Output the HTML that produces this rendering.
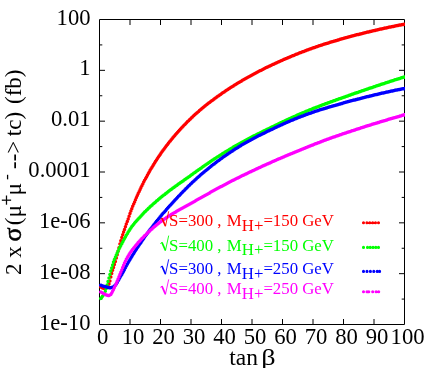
<!DOCTYPE html>
<html><head><meta charset="utf-8"><title>plot</title>
<style>
html,body{margin:0;padding:0;background:#fff;}
body{width:429px;height:368px;overflow:hidden;}
svg{display:block;filter:blur(0.35px);}
text{font-family:"Liberation Serif",serif;}
</style></head><body>
<svg width="429" height="368" viewBox="0 0 429 368">
<rect width="429" height="368" fill="#fff"/>
<path d="M99.5 19.5H404.5V324.5H99.5ZM130.0 324.5v-5.5M130.0 19.5v5.5M160.5 324.5v-5.5M160.5 19.5v5.5M191.0 324.5v-5.5M191.0 19.5v5.5M221.5 324.5v-5.5M221.5 19.5v5.5M252.0 324.5v-5.5M252.0 19.5v5.5M282.5 324.5v-5.5M282.5 19.5v5.5M313.0 324.5v-5.5M313.0 19.5v5.5M343.5 324.5v-5.5M343.5 19.5v5.5M374.0 324.5v-5.5M374.0 19.5v5.5M99.5 44.92h2.8M404.5 44.92h-2.8M99.5 70.33h5.5M404.5 70.33h-5.5M99.5 95.75h2.8M404.5 95.75h-2.8M99.5 121.17h5.5M404.5 121.17h-5.5M99.5 146.58h2.8M404.5 146.58h-2.8M99.5 172.00h5.5M404.5 172.00h-5.5M99.5 197.42h2.8M404.5 197.42h-2.8M99.5 222.83h5.5M404.5 222.83h-5.5M99.5 248.25h2.8M404.5 248.25h-2.8M99.5 273.67h5.5M404.5 273.67h-5.5M99.5 299.08h2.8M404.5 299.08h-2.8" fill="none" stroke="#000" stroke-width="1" stroke-linecap="butt"/>
<clipPath id="c"><rect x="97.5" y="19.5" width="307.5" height="305.0"/></clipPath>
<g clip-path="url(#c)" fill="none" stroke-linecap="round" stroke-linejoin="round">
<path d="M100.7 287.0h0M101.6 287.6h0M102.5 288.0h0M103.5 288.2h0M104.4 288.3h0M105.3 288.1h0M106.2 287.6h0M107.1 286.9h0M108.0 285.9h0M109.0 284.1h0M109.9 281.1h0M110.8 277.1h0M111.7 273.5h0M112.6 270.3h0M113.5 267.4h0M114.4 264.5h0M115.4 261.4h0M116.3 258.1h0M117.2 254.8h0M118.1 251.3h0M119.0 247.7h0M119.9 244.1h0M120.8 240.7h0M121.8 237.6h0M122.7 234.8h0M123.6 232.0h0M124.5 229.4h0M125.4 226.7h0M126.3 224.1h0M127.3 221.5h0M128.2 218.9h0M129.1 216.2h0M130.0 213.6h0M130.9 211.1h0M131.8 208.7h0M132.7 206.3h0M133.7 204.1h0M134.6 201.9h0M135.5 199.7h0M136.4 197.6h0M137.3 195.5h0M138.2 193.5h0M139.2 191.5h0M140.1 189.5h0M141.0 187.6h0M141.9 185.7h0M142.8 183.9h0M143.7 182.1h0M144.6 180.3h0M145.6 178.6h0M146.5 176.9h0M147.4 175.2h0M148.3 173.5h0M149.2 171.9h0M150.1 170.3h0M151.0 168.7h0M152.0 167.2h0M152.9 165.7h0M153.8 164.2h0M154.7 162.7h0M155.6 161.3h0M156.5 159.9h0M157.4 158.5h0M158.4 157.1h0M159.3 155.7h0M160.2 154.4h0M161.1 153.1h0M162.0 151.8h0M162.9 150.5h0M163.9 149.3h0M164.8 148.0h0M165.7 146.8h0M166.6 145.6h0M167.5 144.4h0M168.4 143.2h0M169.3 142.1h0M170.3 140.9h0M171.2 139.8h0M172.1 138.7h0M173.0 137.6h0M173.9 136.5h0M174.8 135.4h0M175.8 134.3h0M176.7 133.3h0M177.6 132.2h0M178.5 131.2h0M179.4 130.2h0M180.3 129.2h0M181.2 128.2h0M182.2 127.2h0M183.1 126.3h0M184.0 125.3h0M184.9 124.4h0M185.8 123.4h0M186.7 122.5h0M187.6 121.6h0M188.6 120.7h0M189.5 119.8h0M190.4 118.9h0M191.3 118.0h0M192.2 117.2h0M193.1 116.3h0M194.0 115.5h0M195.0 114.6h0M195.9 113.8h0M196.8 113.0h0M197.7 112.2h0M198.6 111.4h0M199.5 110.6h0M200.5 109.8h0M201.4 109.0h0M202.3 108.3h0M203.2 107.5h0M204.1 106.8h0M205.0 106.0h0M205.9 105.3h0M206.9 104.6h0M207.8 103.8h0M208.7 103.1h0M209.6 102.4h0M210.5 101.7h0M211.4 101.0h0M212.3 100.4h0M213.3 99.7h0M214.2 99.0h0M215.1 98.3h0M216.0 97.7h0M216.9 97.0h0M217.8 96.3h0M218.8 95.7h0M219.7 95.0h0M220.6 94.4h0M221.5 93.8h0M222.4 93.1h0M223.3 92.5h0M224.2 91.9h0M225.2 91.3h0M226.1 90.6h0M227.0 90.0h0M227.9 89.4h0M228.8 88.8h0M229.7 88.2h0M230.7 87.6h0M231.6 87.0h0M232.5 86.5h0M233.4 85.9h0M234.3 85.3h0M235.2 84.7h0M236.1 84.2h0M237.1 83.6h0M238.0 83.0h0M238.9 82.5h0M239.8 81.9h0M240.7 81.4h0M241.6 80.9h0M242.5 80.3h0M243.5 79.8h0M244.4 79.3h0M245.3 78.7h0M246.2 78.2h0M247.1 77.7h0M248.0 77.2h0M248.9 76.7h0M249.9 76.2h0M250.8 75.7h0M251.7 75.2h0M252.6 74.7h0M253.5 74.2h0M254.4 73.7h0M255.4 73.2h0M256.3 72.7h0M257.2 72.3h0M258.1 71.8h0M259.0 71.3h0M259.9 70.8h0M260.8 70.4h0M261.8 69.9h0M262.7 69.5h0M263.6 69.0h0M264.5 68.5h0M265.4 68.1h0M266.3 67.6h0M267.2 67.2h0M268.2 66.8h0M269.1 66.3h0M270.0 65.9h0M270.9 65.4h0M271.8 65.0h0M272.7 64.6h0M273.7 64.2h0M274.6 63.7h0M275.5 63.3h0M276.4 62.9h0M277.3 62.5h0M278.2 62.1h0M279.1 61.7h0M280.1 61.2h0M281.0 60.8h0M281.9 60.4h0M282.8 60.0h0M283.7 59.6h0M284.6 59.2h0M285.5 58.8h0M286.5 58.4h0M287.4 58.0h0M288.3 57.7h0M289.2 57.3h0M290.1 56.9h0M291.0 56.5h0M292.0 56.1h0M292.9 55.7h0M293.8 55.4h0M294.7 55.0h0M295.6 54.6h0M296.5 54.2h0M297.4 53.9h0M298.4 53.5h0M299.3 53.1h0M300.2 52.8h0M301.1 52.4h0M302.0 52.1h0M302.9 51.7h0M303.9 51.4h0M304.8 51.0h0M305.7 50.7h0M306.6 50.3h0M307.5 50.0h0M308.4 49.7h0M309.3 49.3h0M310.3 49.0h0M311.2 48.7h0M312.1 48.3h0M313.0 48.0h0M313.9 47.7h0M314.8 47.4h0M315.7 47.1h0M316.7 46.8h0M317.6 46.5h0M318.5 46.1h0M319.4 45.8h0M320.3 45.5h0M321.2 45.2h0M322.1 44.9h0M323.1 44.6h0M324.0 44.3h0M324.9 44.1h0M325.8 43.8h0M326.7 43.5h0M327.6 43.2h0M328.6 42.9h0M329.5 42.6h0M330.4 42.3h0M331.3 42.1h0M332.2 41.8h0M333.1 41.5h0M334.0 41.2h0M335.0 40.9h0M335.9 40.7h0M336.8 40.4h0M337.7 40.1h0M338.6 39.9h0M339.5 39.6h0M340.4 39.3h0M341.4 39.1h0M342.3 38.8h0M343.2 38.5h0M344.1 38.3h0M345.0 38.0h0M345.9 37.8h0M346.9 37.5h0M347.8 37.3h0M348.7 37.0h0M349.6 36.8h0M350.5 36.5h0M351.4 36.3h0M352.3 36.0h0M353.3 35.8h0M354.2 35.5h0M355.1 35.3h0M356.0 35.1h0M356.9 34.8h0M357.8 34.6h0M358.8 34.4h0M359.7 34.1h0M360.6 33.9h0M361.5 33.7h0M362.4 33.4h0M363.3 33.2h0M364.2 33.0h0M365.2 32.7h0M366.1 32.5h0M367.0 32.3h0M367.9 32.1h0M368.8 31.9h0M369.7 31.6h0M370.6 31.4h0M371.6 31.2h0M372.5 31.0h0M373.4 30.8h0M374.3 30.6h0M375.2 30.4h0M376.1 30.1h0M377.1 29.9h0M378.0 29.7h0M378.9 29.5h0M379.8 29.3h0M380.7 29.1h0M381.6 28.9h0M382.5 28.7h0M383.5 28.5h0M384.4 28.3h0M385.3 28.1h0M386.2 27.9h0M387.1 27.7h0M388.0 27.5h0M388.9 27.3h0M389.9 27.1h0M390.8 26.9h0M391.7 26.8h0M392.6 26.6h0M393.5 26.4h0M394.4 26.2h0M395.3 26.0h0M396.3 25.8h0M397.2 25.6h0M398.1 25.4h0M399.0 25.3h0M399.9 25.1h0M400.8 24.9h0M401.8 24.7h0M402.7 24.5h0M403.6 24.4h0M404.5 24.2h0" stroke="#ff0000" stroke-width="3.5"/>
<path d="M100.7 298.5h0M101.6 297.5h0M102.5 296.3h0M103.5 294.9h0M104.4 293.3h0M105.3 291.3h0M106.2 288.4h0M107.1 285.0h0M108.0 281.6h0M109.0 278.1h0M109.9 274.5h0M110.8 271.1h0M111.7 268.0h0M112.6 265.0h0M113.5 262.1h0M114.4 259.5h0M115.4 257.2h0M116.3 255.0h0M117.2 252.9h0M118.1 250.9h0M119.0 249.0h0M119.9 247.2h0M120.8 245.4h0M121.8 243.7h0M122.7 242.0h0M123.6 240.3h0M124.5 238.6h0M125.4 236.9h0M126.3 235.3h0M127.3 233.7h0M128.2 232.1h0M129.1 230.7h0M130.0 229.2h0M130.9 227.9h0M131.8 226.6h0M132.7 225.4h0M133.7 224.2h0M134.6 223.1h0M135.5 222.0h0M136.4 221.0h0M137.3 219.9h0M138.2 218.9h0M139.2 217.9h0M140.1 216.9h0M141.0 215.9h0M141.9 214.9h0M142.8 214.0h0M143.7 213.0h0M144.6 212.1h0M145.6 211.2h0M146.5 210.3h0M147.4 209.4h0M148.3 208.6h0M149.2 207.7h0M150.1 206.8h0M151.0 206.0h0M152.0 205.2h0M152.9 204.3h0M153.8 203.5h0M154.7 202.7h0M155.6 201.9h0M156.5 201.1h0M157.4 200.4h0M158.4 199.6h0M159.3 198.8h0M160.2 198.1h0M161.1 197.3h0M162.0 196.6h0M162.9 195.8h0M163.9 195.1h0M164.8 194.4h0M165.7 193.6h0M166.6 192.9h0M167.5 192.2h0M168.4 191.5h0M169.3 190.8h0M170.3 190.1h0M171.2 189.5h0M172.1 188.8h0M173.0 188.1h0M173.9 187.4h0M174.8 186.8h0M175.8 186.1h0M176.7 185.4h0M177.6 184.8h0M178.5 184.1h0M179.4 183.5h0M180.3 182.8h0M181.2 182.2h0M182.2 181.5h0M183.1 180.9h0M184.0 180.2h0M184.9 179.6h0M185.8 178.9h0M186.7 178.3h0M187.6 177.7h0M188.6 177.0h0M189.5 176.4h0M190.4 175.7h0M191.3 175.1h0M192.2 174.4h0M193.1 173.8h0M194.0 173.1h0M195.0 172.5h0M195.9 171.8h0M196.8 171.1h0M197.7 170.5h0M198.6 169.8h0M199.5 169.2h0M200.5 168.6h0M201.4 167.9h0M202.3 167.3h0M203.2 166.6h0M204.1 166.0h0M205.0 165.3h0M205.9 164.7h0M206.9 164.1h0M207.8 163.4h0M208.7 162.8h0M209.6 162.2h0M210.5 161.6h0M211.4 161.0h0M212.3 160.3h0M213.3 159.7h0M214.2 159.1h0M215.1 158.5h0M216.0 157.9h0M216.9 157.3h0M217.8 156.7h0M218.8 156.2h0M219.7 155.6h0M220.6 155.0h0M221.5 154.4h0M222.4 153.8h0M223.3 153.3h0M224.2 152.7h0M225.2 152.1h0M226.1 151.6h0M227.0 151.0h0M227.9 150.4h0M228.8 149.9h0M229.7 149.3h0M230.7 148.8h0M231.6 148.2h0M232.5 147.7h0M233.4 147.1h0M234.3 146.6h0M235.2 146.1h0M236.1 145.5h0M237.1 145.0h0M238.0 144.5h0M238.9 144.0h0M239.8 143.4h0M240.7 142.9h0M241.6 142.4h0M242.5 141.9h0M243.5 141.4h0M244.4 140.9h0M245.3 140.4h0M246.2 139.9h0M247.1 139.4h0M248.0 139.0h0M248.9 138.5h0M249.9 138.0h0M250.8 137.5h0M251.7 137.1h0M252.6 136.6h0M253.5 136.1h0M254.4 135.7h0M255.4 135.2h0M256.3 134.8h0M257.2 134.3h0M258.1 133.8h0M259.0 133.4h0M259.9 132.9h0M260.8 132.5h0M261.8 132.0h0M262.7 131.6h0M263.6 131.1h0M264.5 130.7h0M265.4 130.2h0M266.3 129.8h0M267.2 129.3h0M268.2 128.9h0M269.1 128.5h0M270.0 128.0h0M270.9 127.6h0M271.8 127.1h0M272.7 126.7h0M273.7 126.2h0M274.6 125.8h0M275.5 125.3h0M276.4 124.9h0M277.3 124.5h0M278.2 124.0h0M279.1 123.6h0M280.1 123.1h0M281.0 122.7h0M281.9 122.3h0M282.8 121.8h0M283.7 121.4h0M284.6 121.0h0M285.5 120.5h0M286.5 120.1h0M287.4 119.7h0M288.3 119.3h0M289.2 118.8h0M290.1 118.4h0M291.0 118.0h0M292.0 117.6h0M292.9 117.2h0M293.8 116.8h0M294.7 116.4h0M295.6 115.9h0M296.5 115.5h0M297.4 115.1h0M298.4 114.7h0M299.3 114.3h0M300.2 113.9h0M301.1 113.5h0M302.0 113.2h0M302.9 112.8h0M303.9 112.4h0M304.8 112.0h0M305.7 111.6h0M306.6 111.2h0M307.5 110.9h0M308.4 110.5h0M309.3 110.1h0M310.3 109.7h0M311.2 109.4h0M312.1 109.0h0M313.0 108.6h0M313.9 108.3h0M314.8 107.9h0M315.7 107.6h0M316.7 107.2h0M317.6 106.9h0M318.5 106.5h0M319.4 106.2h0M320.3 105.8h0M321.2 105.5h0M322.1 105.1h0M323.1 104.8h0M324.0 104.5h0M324.9 104.1h0M325.8 103.8h0M326.7 103.4h0M327.6 103.1h0M328.6 102.8h0M329.5 102.4h0M330.4 102.1h0M331.3 101.8h0M332.2 101.4h0M333.1 101.1h0M334.0 100.8h0M335.0 100.5h0M335.9 100.1h0M336.8 99.8h0M337.7 99.5h0M338.6 99.1h0M339.5 98.8h0M340.4 98.5h0M341.4 98.2h0M342.3 97.8h0M343.2 97.5h0M344.1 97.2h0M345.0 96.9h0M345.9 96.5h0M346.9 96.2h0M347.8 95.9h0M348.7 95.6h0M349.6 95.3h0M350.5 94.9h0M351.4 94.6h0M352.3 94.3h0M353.3 94.0h0M354.2 93.6h0M355.1 93.3h0M356.0 93.0h0M356.9 92.7h0M357.8 92.4h0M358.8 92.0h0M359.7 91.7h0M360.6 91.4h0M361.5 91.1h0M362.4 90.8h0M363.3 90.5h0M364.2 90.2h0M365.2 89.8h0M366.1 89.5h0M367.0 89.2h0M367.9 88.9h0M368.8 88.6h0M369.7 88.3h0M370.6 88.0h0M371.6 87.7h0M372.5 87.4h0M373.4 87.0h0M374.3 86.7h0M375.2 86.4h0M376.1 86.1h0M377.1 85.8h0M378.0 85.5h0M378.9 85.2h0M379.8 84.9h0M380.7 84.6h0M381.6 84.3h0M382.5 84.0h0M383.5 83.7h0M384.4 83.4h0M385.3 83.1h0M386.2 82.8h0M387.1 82.5h0M388.0 82.2h0M388.9 81.9h0M389.9 81.6h0M390.8 81.3h0M391.7 81.0h0M392.6 80.7h0M393.5 80.4h0M394.4 80.1h0M395.3 79.8h0M396.3 79.5h0M397.2 79.2h0M398.1 79.0h0M399.0 78.7h0M399.9 78.4h0M400.8 78.1h0M401.8 77.8h0M402.7 77.6h0M403.6 77.3h0M404.5 77.0h0" stroke="#00ff00" stroke-width="3.5"/>
<path d="M100.7 285.3h0M101.6 285.6h0M102.5 285.9h0M103.5 286.2h0M104.4 286.4h0M105.3 286.7h0M106.2 287.0h0M107.1 287.3h0M108.0 287.5h0M109.0 287.7h0M109.9 287.8h0M110.8 287.7h0M111.7 287.5h0M112.6 287.3h0M113.5 286.8h0M114.4 286.0h0M115.4 285.1h0M116.3 283.9h0M117.2 282.5h0M118.1 280.8h0M119.0 279.2h0M119.9 277.6h0M120.8 276.0h0M121.8 274.5h0M122.7 272.8h0M123.6 271.2h0M124.5 269.4h0M125.4 267.7h0M126.3 266.0h0M127.3 264.3h0M128.2 262.6h0M129.1 261.0h0M130.0 259.5h0M130.9 257.9h0M131.8 256.4h0M132.7 255.0h0M133.7 253.5h0M134.6 252.1h0M135.5 250.6h0M136.4 249.2h0M137.3 247.8h0M138.2 246.4h0M139.2 245.1h0M140.1 243.7h0M141.0 242.4h0M141.9 241.0h0M142.8 239.7h0M143.7 238.4h0M144.6 237.1h0M145.6 235.8h0M146.5 234.6h0M147.4 233.3h0M148.3 232.1h0M149.2 230.8h0M150.1 229.6h0M151.0 228.4h0M152.0 227.2h0M152.9 226.0h0M153.8 224.8h0M154.7 223.7h0M155.6 222.5h0M156.5 221.3h0M157.4 220.2h0M158.4 219.1h0M159.3 218.0h0M160.2 216.8h0M161.1 215.7h0M162.0 214.6h0M162.9 213.6h0M163.9 212.5h0M164.8 211.4h0M165.7 210.4h0M166.6 209.3h0M167.5 208.3h0M168.4 207.2h0M169.3 206.2h0M170.3 205.2h0M171.2 204.2h0M172.1 203.2h0M173.0 202.2h0M173.9 201.2h0M174.8 200.2h0M175.8 199.2h0M176.7 198.3h0M177.6 197.3h0M178.5 196.3h0M179.4 195.4h0M180.3 194.4h0M181.2 193.5h0M182.2 192.5h0M183.1 191.6h0M184.0 190.7h0M184.9 189.8h0M185.8 188.8h0M186.7 187.9h0M187.6 187.0h0M188.6 186.1h0M189.5 185.2h0M190.4 184.3h0M191.3 183.5h0M192.2 182.6h0M193.1 181.7h0M194.0 180.9h0M195.0 180.0h0M195.9 179.2h0M196.8 178.3h0M197.7 177.5h0M198.6 176.7h0M199.5 175.9h0M200.5 175.1h0M201.4 174.3h0M202.3 173.5h0M203.2 172.7h0M204.1 171.9h0M205.0 171.2h0M205.9 170.4h0M206.9 169.7h0M207.8 168.9h0M208.7 168.2h0M209.6 167.4h0M210.5 166.7h0M211.4 166.0h0M212.3 165.3h0M213.3 164.6h0M214.2 163.9h0M215.1 163.2h0M216.0 162.5h0M216.9 161.8h0M217.8 161.1h0M218.8 160.4h0M219.7 159.7h0M220.6 159.1h0M221.5 158.4h0M222.4 157.8h0M223.3 157.1h0M224.2 156.5h0M225.2 155.8h0M226.1 155.2h0M227.0 154.6h0M227.9 153.9h0M228.8 153.3h0M229.7 152.7h0M230.7 152.1h0M231.6 151.5h0M232.5 150.9h0M233.4 150.3h0M234.3 149.7h0M235.2 149.1h0M236.1 148.5h0M237.1 147.9h0M238.0 147.4h0M238.9 146.8h0M239.8 146.2h0M240.7 145.7h0M241.6 145.1h0M242.5 144.6h0M243.5 144.0h0M244.4 143.5h0M245.3 143.0h0M246.2 142.5h0M247.1 141.9h0M248.0 141.4h0M248.9 140.9h0M249.9 140.4h0M250.8 139.9h0M251.7 139.4h0M252.6 139.0h0M253.5 138.5h0M254.4 138.0h0M255.4 137.5h0M256.3 137.0h0M257.2 136.6h0M258.1 136.1h0M259.0 135.6h0M259.9 135.2h0M260.8 134.7h0M261.8 134.3h0M262.7 133.8h0M263.6 133.4h0M264.5 132.9h0M265.4 132.5h0M266.3 132.0h0M267.2 131.6h0M268.2 131.1h0M269.1 130.7h0M270.0 130.2h0M270.9 129.8h0M271.8 129.4h0M272.7 128.9h0M273.7 128.5h0M274.6 128.1h0M275.5 127.6h0M276.4 127.2h0M277.3 126.8h0M278.2 126.3h0M279.1 125.9h0M280.1 125.5h0M281.0 125.1h0M281.9 124.7h0M282.8 124.2h0M283.7 123.8h0M284.6 123.4h0M285.5 123.0h0M286.5 122.6h0M287.4 122.2h0M288.3 121.8h0M289.2 121.4h0M290.1 121.0h0M291.0 120.6h0M292.0 120.3h0M292.9 119.9h0M293.8 119.5h0M294.7 119.1h0M295.6 118.7h0M296.5 118.4h0M297.4 118.0h0M298.4 117.6h0M299.3 117.3h0M300.2 116.9h0M301.1 116.6h0M302.0 116.2h0M302.9 115.9h0M303.9 115.5h0M304.8 115.2h0M305.7 114.8h0M306.6 114.5h0M307.5 114.2h0M308.4 113.8h0M309.3 113.5h0M310.3 113.2h0M311.2 112.9h0M312.1 112.6h0M313.0 112.2h0M313.9 111.9h0M314.8 111.6h0M315.7 111.3h0M316.7 111.0h0M317.6 110.7h0M318.5 110.4h0M319.4 110.1h0M320.3 109.8h0M321.2 109.6h0M322.1 109.3h0M323.1 109.0h0M324.0 108.7h0M324.9 108.4h0M325.8 108.1h0M326.7 107.9h0M327.6 107.6h0M328.6 107.3h0M329.5 107.1h0M330.4 106.8h0M331.3 106.5h0M332.2 106.2h0M333.1 106.0h0M334.0 105.7h0M335.0 105.4h0M335.9 105.2h0M336.8 104.9h0M337.7 104.7h0M338.6 104.4h0M339.5 104.1h0M340.4 103.9h0M341.4 103.6h0M342.3 103.4h0M343.2 103.1h0M344.1 102.8h0M345.0 102.6h0M345.9 102.3h0M346.9 102.1h0M347.8 101.8h0M348.7 101.6h0M349.6 101.3h0M350.5 101.1h0M351.4 100.8h0M352.3 100.6h0M353.3 100.3h0M354.2 100.1h0M355.1 99.9h0M356.0 99.6h0M356.9 99.4h0M357.8 99.1h0M358.8 98.9h0M359.7 98.7h0M360.6 98.4h0M361.5 98.2h0M362.4 98.0h0M363.3 97.7h0M364.2 97.5h0M365.2 97.3h0M366.1 97.0h0M367.0 96.8h0M367.9 96.6h0M368.8 96.4h0M369.7 96.1h0M370.6 95.9h0M371.6 95.7h0M372.5 95.5h0M373.4 95.3h0M374.3 95.0h0M375.2 94.8h0M376.1 94.6h0M377.1 94.4h0M378.0 94.2h0M378.9 94.0h0M379.8 93.8h0M380.7 93.5h0M381.6 93.3h0M382.5 93.1h0M383.5 92.9h0M384.4 92.7h0M385.3 92.5h0M386.2 92.3h0M387.1 92.1h0M388.0 91.9h0M388.9 91.7h0M389.9 91.5h0M390.8 91.3h0M391.7 91.1h0M392.6 90.9h0M393.5 90.7h0M394.4 90.5h0M395.3 90.3h0M396.3 90.1h0M397.2 89.9h0M398.1 89.7h0M399.0 89.6h0M399.9 89.4h0M400.8 89.2h0M401.8 89.0h0M402.7 88.8h0M403.6 88.7h0M404.5 88.5h0" stroke="#0000ff" stroke-width="3.5"/>
<path d="M100.7 292.0h0M101.6 292.5h0M102.5 293.0h0M103.5 293.5h0M104.4 294.0h0M105.3 294.5h0M106.2 294.9h0M107.1 295.2h0M108.0 295.4h0M109.0 295.5h0M109.9 295.1h0M110.8 294.6h0M111.7 293.1h0M112.6 291.3h0M113.5 289.5h0M114.4 287.6h0M115.4 285.6h0M116.3 283.5h0M117.2 281.2h0M118.1 278.9h0M119.0 276.7h0M119.9 274.5h0M120.8 272.2h0M121.8 269.9h0M122.7 267.5h0M123.6 265.3h0M124.5 263.1h0M125.4 261.2h0M126.3 259.3h0M127.3 257.6h0M128.2 256.0h0M129.1 254.5h0M130.0 253.1h0M130.9 251.8h0M131.8 250.5h0M132.7 249.3h0M133.7 248.1h0M134.6 247.0h0M135.5 245.8h0M136.4 244.7h0M137.3 243.7h0M138.2 242.6h0M139.2 241.6h0M140.1 240.6h0M141.0 239.6h0M141.9 238.6h0M142.8 237.7h0M143.7 236.8h0M144.6 235.8h0M145.6 234.9h0M146.5 234.0h0M147.4 233.1h0M148.3 232.3h0M149.2 231.4h0M150.1 230.6h0M151.0 229.7h0M152.0 228.9h0M152.9 228.1h0M153.8 227.3h0M154.7 226.5h0M155.6 225.8h0M156.5 225.0h0M157.4 224.3h0M158.4 223.6h0M159.3 222.8h0M160.2 222.1h0M161.1 221.4h0M162.0 220.8h0M162.9 220.1h0M163.9 219.4h0M164.8 218.8h0M165.7 218.2h0M166.6 217.6h0M167.5 217.0h0M168.4 216.4h0M169.3 215.8h0M170.3 215.2h0M171.2 214.6h0M172.1 214.1h0M173.0 213.5h0M173.9 213.0h0M174.8 212.4h0M175.8 211.9h0M176.7 211.3h0M177.6 210.8h0M178.5 210.3h0M179.4 209.8h0M180.3 209.3h0M181.2 208.8h0M182.2 208.3h0M183.1 207.7h0M184.0 207.2h0M184.9 206.7h0M185.8 206.2h0M186.7 205.7h0M187.6 205.2h0M188.6 204.7h0M189.5 204.2h0M190.4 203.7h0M191.3 203.2h0M192.2 202.7h0M193.1 202.2h0M194.0 201.7h0M195.0 201.2h0M195.9 200.6h0M196.8 200.1h0M197.7 199.6h0M198.6 199.1h0M199.5 198.6h0M200.5 198.1h0M201.4 197.5h0M202.3 197.0h0M203.2 196.5h0M204.1 196.0h0M205.0 195.4h0M205.9 194.9h0M206.9 194.4h0M207.8 193.9h0M208.7 193.4h0M209.6 192.9h0M210.5 192.3h0M211.4 191.8h0M212.3 191.3h0M213.3 190.8h0M214.2 190.3h0M215.1 189.8h0M216.0 189.3h0M216.9 188.8h0M217.8 188.3h0M218.8 187.8h0M219.7 187.3h0M220.6 186.8h0M221.5 186.4h0M222.4 185.9h0M223.3 185.4h0M224.2 184.9h0M225.2 184.4h0M226.1 183.9h0M227.0 183.5h0M227.9 183.0h0M228.8 182.5h0M229.7 182.0h0M230.7 181.6h0M231.6 181.1h0M232.5 180.6h0M233.4 180.2h0M234.3 179.7h0M235.2 179.3h0M236.1 178.8h0M237.1 178.3h0M238.0 177.9h0M238.9 177.4h0M239.8 177.0h0M240.7 176.5h0M241.6 176.1h0M242.5 175.6h0M243.5 175.2h0M244.4 174.7h0M245.3 174.3h0M246.2 173.9h0M247.1 173.4h0M248.0 173.0h0M248.9 172.5h0M249.9 172.1h0M250.8 171.7h0M251.7 171.2h0M252.6 170.8h0M253.5 170.4h0M254.4 169.9h0M255.4 169.5h0M256.3 169.1h0M257.2 168.7h0M258.1 168.2h0M259.0 167.8h0M259.9 167.4h0M260.8 167.0h0M261.8 166.6h0M262.7 166.1h0M263.6 165.7h0M264.5 165.3h0M265.4 164.9h0M266.3 164.5h0M267.2 164.1h0M268.2 163.7h0M269.1 163.3h0M270.0 162.9h0M270.9 162.4h0M271.8 162.0h0M272.7 161.6h0M273.7 161.2h0M274.6 160.8h0M275.5 160.4h0M276.4 160.0h0M277.3 159.6h0M278.2 159.2h0M279.1 158.8h0M280.1 158.5h0M281.0 158.1h0M281.9 157.7h0M282.8 157.3h0M283.7 156.9h0M284.6 156.5h0M285.5 156.1h0M286.5 155.7h0M287.4 155.3h0M288.3 155.0h0M289.2 154.6h0M290.1 154.2h0M291.0 153.8h0M292.0 153.4h0M292.9 153.0h0M293.8 152.7h0M294.7 152.3h0M295.6 151.9h0M296.5 151.5h0M297.4 151.2h0M298.4 150.8h0M299.3 150.4h0M300.2 150.0h0M301.1 149.7h0M302.0 149.3h0M302.9 148.9h0M303.9 148.5h0M304.8 148.2h0M305.7 147.8h0M306.6 147.4h0M307.5 147.1h0M308.4 146.7h0M309.3 146.3h0M310.3 146.0h0M311.2 145.6h0M312.1 145.2h0M313.0 144.9h0M313.9 144.5h0M314.8 144.1h0M315.7 143.8h0M316.7 143.4h0M317.6 143.1h0M318.5 142.7h0M319.4 142.4h0M320.3 142.0h0M321.2 141.7h0M322.1 141.3h0M323.1 141.0h0M324.0 140.6h0M324.9 140.3h0M325.8 139.9h0M326.7 139.6h0M327.6 139.3h0M328.6 138.9h0M329.5 138.6h0M330.4 138.3h0M331.3 137.9h0M332.2 137.6h0M333.1 137.3h0M334.0 137.0h0M335.0 136.7h0M335.9 136.3h0M336.8 136.0h0M337.7 135.7h0M338.6 135.4h0M339.5 135.1h0M340.4 134.8h0M341.4 134.4h0M342.3 134.1h0M343.2 133.8h0M344.1 133.5h0M345.0 133.2h0M345.9 132.9h0M346.9 132.6h0M347.8 132.3h0M348.7 132.0h0M349.6 131.7h0M350.5 131.4h0M351.4 131.1h0M352.3 130.8h0M353.3 130.5h0M354.2 130.2h0M355.1 129.9h0M356.0 129.6h0M356.9 129.3h0M357.8 129.0h0M358.8 128.7h0M359.7 128.4h0M360.6 128.1h0M361.5 127.8h0M362.4 127.5h0M363.3 127.2h0M364.2 126.9h0M365.2 126.6h0M366.1 126.3h0M367.0 126.1h0M367.9 125.8h0M368.8 125.5h0M369.7 125.2h0M370.6 124.9h0M371.6 124.6h0M372.5 124.3h0M373.4 124.0h0M374.3 123.8h0M375.2 123.5h0M376.1 123.2h0M377.1 122.9h0M378.0 122.6h0M378.9 122.4h0M379.8 122.1h0M380.7 121.8h0M381.6 121.5h0M382.5 121.3h0M383.5 121.0h0M384.4 120.7h0M385.3 120.4h0M386.2 120.2h0M387.1 119.9h0M388.0 119.6h0M388.9 119.3h0M389.9 119.1h0M390.8 118.8h0M391.7 118.5h0M392.6 118.3h0M393.5 118.0h0M394.4 117.7h0M395.3 117.5h0M396.3 117.2h0M397.2 116.9h0M398.1 116.7h0M399.0 116.4h0M399.9 116.1h0M400.8 115.9h0M401.8 115.6h0M402.7 115.3h0M403.6 115.1h0M404.5 114.8h0" stroke="#ff00ff" stroke-width="3.5"/>
</g>
<g font-size="22.6" text-anchor="end" fill="#000">
<text x="90.5" y="24.5">100</text>
<text x="90.5" y="75.3">1</text>
<text x="90.5" y="126.2">0.01</text>
<text x="90.5" y="177.0">0.0001</text>
<text x="90.5" y="227.8">1e-06</text>
<text x="90.5" y="278.7">1e-08</text>
<text x="90.5" y="329.5">1e-10</text>
</g>
<g font-size="22.7" text-anchor="middle" fill="#000">
<text x="102.6" y="344.1">0</text>
<text x="133.1" y="344.1">10</text>
<text x="163.6" y="344.1">20</text>
<text x="194.1" y="344.1">30</text>
<text x="224.6" y="344.1">40</text>
<text x="255.1" y="344.1">50</text>
<text x="285.6" y="344.1">60</text>
<text x="316.1" y="344.1">70</text>
<text x="346.6" y="344.1">80</text>
<text x="377.1" y="344.1">90</text>
<text x="407.6" y="344.1">100</text>
</g>
<text x="229.3" y="365.1" font-size="23.5" fill="#000">tan</text><text transform="translate(261.2,365.1) scale(1.2,1)" font-size="23.5" fill="#000">β</text>
<g transform="translate(21,274.9) rotate(-90)" fill="#000" font-size="23"><text x="0" y="0">2 x</text><text x="33.4" y="0" font-size="26" stroke="#000" stroke-width="0.5">σ</text><text x="49.6" y="0">(</text><text x="57.4" y="0" font-size="23.5">μ</text><text x="69.3" y="-8.2" font-size="19" stroke="#000" stroke-width="0.3">+</text><text x="79.4" y="0" font-size="23.5">μ</text><text x="95.0" y="-9" font-size="17.6">-</text><text x="105.9" y="0">--&gt;</text><text x="138.7" y="0">tc)</text><text x="170.9" y="0">(fb)</text></g>
<path d="M160.3 219.3L162.1 218.0" stroke="#ff0000" stroke-width="0.9" fill="none"/><path d="M161.9 218.0L165.4 226.0" stroke="#ff0000" stroke-width="1.7" fill="none"/><path d="M165.4 226.5L168.7 211.3" stroke="#ff0000" stroke-width="0.9" fill="none"/>
<text x="169.1" y="226.3" font-size="16.8" fill="#ff0000">S=300 ,<tspan dx="1.2"> M</tspan><tspan dy="4.5">H+</tspan><tspan dy="-4.5">=150 GeV</tspan></text>
<path d="M363.5 222.7h0M366.9 222.7h0M369.8 222.7h0M372.7 222.7h0M375.5 222.7h0M378.5 222.7h0" stroke="#ff0000" stroke-width="3.1" stroke-linecap="round" fill="none"/>
<path d="M160.3 243.6L162.1 242.3" stroke="#00ff00" stroke-width="0.9" fill="none"/><path d="M161.9 242.3L165.4 250.3" stroke="#00ff00" stroke-width="1.7" fill="none"/><path d="M165.4 250.8L168.7 235.6" stroke="#00ff00" stroke-width="0.9" fill="none"/>
<text x="169.1" y="250.6" font-size="16.8" fill="#00ff00">S=400 ,<tspan dx="1.2"> M</tspan><tspan dy="4.5">H+</tspan><tspan dy="-4.5">=150 GeV</tspan></text>
<path d="M363.5 247.4h0M367.5 247.4h0M370.2 247.4h0M373.0 247.4h0M375.8 247.4h0M378.5 247.4h0" stroke="#00ff00" stroke-width="3.1" stroke-linecap="round" fill="none"/>
<path d="M160.3 267.3L162.1 266.0" stroke="#0000ff" stroke-width="0.9" fill="none"/><path d="M161.9 266.0L165.4 274.0" stroke="#0000ff" stroke-width="1.7" fill="none"/><path d="M165.4 274.5L168.7 259.3" stroke="#0000ff" stroke-width="0.9" fill="none"/>
<text x="169.1" y="274.3" font-size="16.8" fill="#0000ff">S=300 ,<tspan dx="1.2"> M</tspan><tspan dy="4.5">H+</tspan><tspan dy="-4.5">=250 GeV</tspan></text>
<path d="M363.5 271.4h0M367.0 271.4h0M370.4 271.4h0M373.8 271.4h0M377.2 271.4h0M379.6 271.4h0" stroke="#0000ff" stroke-width="3.1" stroke-linecap="round" fill="none"/>
<path d="M160.3 287.4L162.1 286.1" stroke="#ff00ff" stroke-width="0.9" fill="none"/><path d="M161.9 286.1L165.4 294.1" stroke="#ff00ff" stroke-width="1.7" fill="none"/><path d="M165.4 294.6L168.7 279.4" stroke="#ff00ff" stroke-width="0.9" fill="none"/>
<text x="169.1" y="294.4" font-size="16.8" fill="#ff00ff">S=400 ,<tspan dx="1.2"> M</tspan><tspan dy="4.5">H+</tspan><tspan dy="-4.5">=250 GeV</tspan></text>
<path d="M363.5 291.8h0M367.0 291.8h0M368.8 291.8h0M372.7 291.8h0M376.1 291.8h0M378.7 291.8h0" stroke="#ff00ff" stroke-width="3.1" stroke-linecap="round" fill="none"/>
</svg>
</body></html>
